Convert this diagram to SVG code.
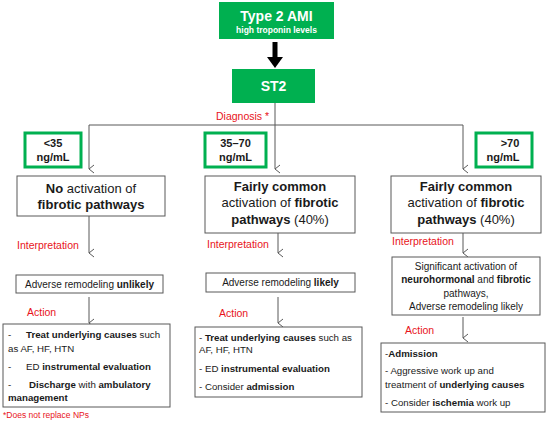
<svg xmlns="http://www.w3.org/2000/svg" width="550" height="422" viewBox="0 0 550 422">
<defs>
<style>
text{font-family:"Liberation Sans",Arial,sans-serif;fill:#1a1a1a}
.w{fill:#fff;font-weight:bold}
.r{fill:#e8141b}
.b{font-weight:bold}
.box{fill:#fff;stroke:#595959;stroke-width:1}
.gb{fill:#fff;stroke:#00b050;stroke-width:3}
.gf{fill:#00b050;stroke:none}
.ln{fill:none;stroke:#595959;stroke-width:1}
.t13{font-size:13px}
.t10{font-size:10px}
.ta{font-size:9.7px}
</style>
<marker id="ah" markerWidth="10" markerHeight="10" refX="5" refY="9" orient="auto-start-reverse" markerUnits="userSpaceOnUse" viewBox="0 0 10 10">
<polyline points="1,4 5,9 9,4" fill="none" stroke="#595959" stroke-width="1"/>
</marker>
</defs>
<rect width="550" height="422" fill="#fff"/>

<g id="connectors">
<line x1="275" y1="42" x2="275" y2="58" stroke="#000" stroke-width="5"/>
<polygon points="267,57 283,57 275,68" fill="#000"/>
<polyline class="ln" points="275,103 275,125"/>
<polyline class="ln" points="89,125 463,125"/>
<line class="ln" x1="89" y1="125" x2="89" y2="169" marker-end="url(#ah)"/>
<line class="ln" x1="275" y1="125" x2="275" y2="169" marker-end="url(#ah)"/>
<line class="ln" x1="463" y1="125" x2="463" y2="169" marker-end="url(#ah)"/>
<line class="ln" x1="89" y1="216" x2="89" y2="253" marker-end="url(#ah)"/>
<line class="ln" x1="278" y1="233" x2="278" y2="253" marker-end="url(#ah)"/>
<line class="ln" x1="463" y1="233" x2="463" y2="253" marker-end="url(#ah)"/>
<line class="ln" x1="89" y1="297" x2="89" y2="323" marker-end="url(#ah)"/>
<line class="ln" x1="278" y1="297" x2="278" y2="323" marker-end="url(#ah)"/>
<line class="ln" x1="463" y1="317" x2="463" y2="338" marker-end="url(#ah)"/>
<text class="r" x="216" y="120" font-size="10.5">Diagnosis *</text>
<text class="r" x="17" y="249" font-size="10.5">Interpretation</text>
<text class="r" x="207" y="248" font-size="10.5">Interpretation</text>
<text class="r" x="392" y="245" font-size="10.5">Interpretation</text>
<text class="r" x="27" y="316" font-size="10.5">Action</text>
<text class="r" x="219" y="317" font-size="10.5">Action</text>
<text class="r" x="405" y="334" font-size="10.5">Action</text>
</g>

<g id="type2ami">
<rect class="gf" x="219" y="2" width="115" height="37"/>
<text class="w" x="276.5" y="21" font-size="14" text-anchor="middle">Type 2 AMI</text>
<text class="w" x="276.5" y="33" font-size="8.5" text-anchor="middle">high troponin levels</text>
</g>

<g id="st2">
<rect class="gf" x="232" y="69" width="83" height="34"/>
<text class="w" x="273.5" y="91" font-size="14" text-anchor="middle">ST2</text>
</g>

<g id="lt35">
<rect class="gb" x="25" y="133" width="56" height="34"/>
<text class="b" x="53" y="147" font-size="11" text-anchor="middle">&lt;35</text>
<text class="b" x="53" y="161" font-size="11" text-anchor="middle">ng/mL</text>
</g>
<g id="r35to70">
<rect class="gb" x="205" y="133" width="61" height="34"/>
<text class="b" x="235.5" y="147" font-size="11" text-anchor="middle">35–70</text>
<text class="b" x="235.5" y="161" font-size="11" text-anchor="middle">ng/mL</text>
</g>
<g id="gt70">
<rect class="gb" x="476" y="133" width="56" height="34"/>
<text class="b" x="510" y="147" font-size="11" text-anchor="middle">&gt;70</text>
<text class="b" x="503" y="161" font-size="11" text-anchor="middle">ng/mL</text>
</g>

<g id="noActivation">
<rect class="box" x="17" y="176" width="148" height="40"/>
<text class="t13" x="91" y="193" text-anchor="middle"><tspan class="b">No</tspan> activation of</text>
<text class="t13 b" x="91" y="209" text-anchor="middle">fibrotic pathways</text>
</g>
<g id="fairlyMid">
<rect class="box" x="205" y="176" width="150" height="57"/>
<text class="t13 b" x="280" y="191" text-anchor="middle">Fairly common</text>
<text class="t13" x="280" y="207" text-anchor="middle">activation of <tspan class="b">fibrotic</tspan></text>
<text class="t13" x="280" y="224" text-anchor="middle"><tspan class="b">pathways</tspan> (40%)</text>
</g>
<g id="fairlyRight">
<rect class="box" x="391" y="176" width="150" height="57"/>
<text class="t13 b" x="466" y="191" text-anchor="middle">Fairly common</text>
<text class="t13" x="466" y="207" text-anchor="middle">activation of <tspan class="b">fibrotic</tspan></text>
<text class="t13" x="466" y="224" text-anchor="middle"><tspan class="b">pathways</tspan> (40%)</text>
</g>

<g id="unlikely">
<rect class="box" x="16" y="275" width="147" height="18"/>
<text class="t10" x="89.5" y="288" text-anchor="middle">Adverse remodeling <tspan class="b">unlikely</tspan></text>
</g>
<g id="likely">
<rect class="box" x="206" y="273" width="149" height="19"/>
<text class="t10" x="280.5" y="286" text-anchor="middle">Adverse remodeling <tspan class="b">likely</tspan></text>
</g>
<g id="significant">
<rect class="box" x="392" y="257" width="148" height="58"/>
<text class="t10" x="466" y="270" text-anchor="middle">Significant activation of</text>
<text class="t10" x="466" y="283" text-anchor="middle"><tspan class="b">neurohormonal</tspan> and <tspan class="b">fibrotic</tspan></text>
<text class="t10" x="466" y="297" text-anchor="middle">pathways,</text>
<text class="t10" x="466" y="310" text-anchor="middle">Adverse remodeling likely</text>
</g>

<g id="actionLeft">
<rect class="box" x="3" y="324" width="167" height="83"/>
<text class="ta" x="8" y="338">-<tspan x="26" class="b">Treat underlying causes</tspan> such</text>
<text class="ta" x="8" y="352">as AF, HF, HTN</text>
<text class="ta" x="8" y="370">-<tspan x="26">ED </tspan><tspan class="b">instrumental evaluation</tspan></text>
<text class="ta" x="8" y="388">-<tspan x="29" class="b">Discharge</tspan> with <tspan class="b">ambulatory</tspan></text>
<text class="ta b" x="8" y="401">management</text>
</g>
<g id="actionMid">
<rect class="box" x="195" y="327" width="167" height="70"/>
<text class="ta" x="199" y="341">- <tspan class="b">Treat underlying causes</tspan> such as</text>
<text class="ta" x="199" y="353">AF, HF, HTN</text>
<text class="ta" x="199" y="372">- ED <tspan class="b">instrumental evaluation</tspan></text>
<text class="ta" x="199" y="390">- Consider <tspan class="b">admission</tspan></text>
</g>
<g id="actionRight">
<rect class="box" x="381" y="343" width="164" height="69"/>
<text class="ta" x="385" y="357">-<tspan class="b">Admission</tspan></text>
<text class="ta" x="385" y="374">- Aggressive work up and</text>
<text class="ta" x="385" y="388">treatment of <tspan class="b">underlying causes</tspan></text>
<text class="ta" x="385" y="406">- Consider <tspan class="b">ischemia</tspan> work up</text>
</g>

<g id="footnote">
<text class="r" x="3" y="418" font-size="8.5">*Does not replace NPs</text>
</g>
</svg>
